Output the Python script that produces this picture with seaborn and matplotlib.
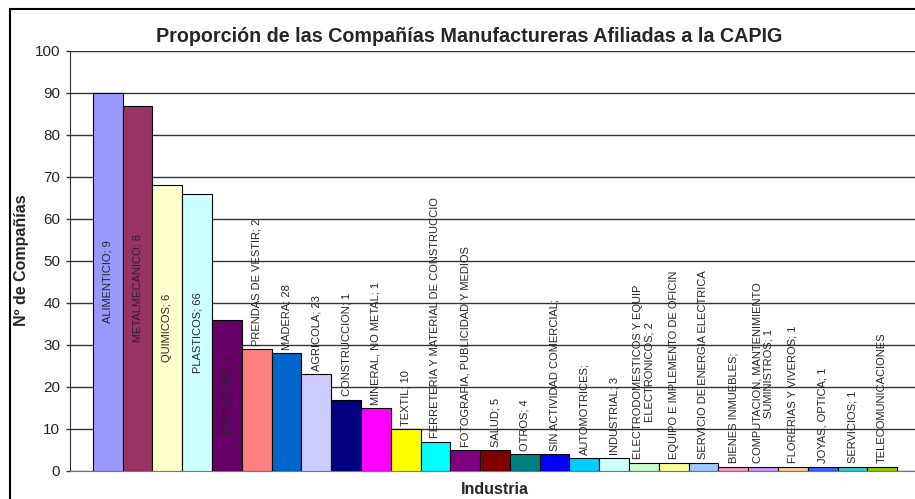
import pandas as pd
import matplotlib
matplotlib.use("Agg")
import matplotlib.pyplot as plt
import seaborn as sns
from matplotlib.patches import Rectangle

# Datos
industrias = [
    "ALIMENTICIO", "METALMECANICO", "QUIMICOS", "PLASTICOS", "IMPRENTAS",
    "PRENDAS DE VESTIR", "MADERA", "AGRICOLA", "CONSTRUCCION", "MINERAL, NO METAL",
    "TEXTIL", "FERRETERIA Y MATERIAL DE CONSTRUCCION", "FOTOGRAFIA, PUBLICIDAD Y MEDIOS",
    "SALUD", "OTROS", "SIN ACTIVIDAD COMERCIAL", "AUTOMOTRICES", "INDUSTRIAL",
    "ELECTRODOMESTICOS Y EQUIPOS ELECTRONICOS", "EQUIPO E IMPLEMENTO DE OFICINA",
    "SERVICIO DE ENERGIA ELECTRICA", "BIENES INMUEBLES",
    "COMPUTACION, MANTENIMIENTO Y SUMINISTROS", "FLORERIAS Y VIVEROS", "JOYAS, OPTICA",
    "SERVICIOS", "TELECOMUNICACIONES",
]
companias = [90, 87, 68, 66, 36, 29, 28, 23, 17, 15, 10, 7, 5, 5, 4, 4, 3, 3,
             2, 2, 2, 1, 1, 1, 1, 1, 1]

# Etiquetas tal como se ven (recortadas por Excel)
etiquetas = [
    "ALIMENTICIO; 9", "METALMECANICO; 8", "QUIMICOS; 6", "PLASTICOS; 66", "IMPRENTAS; 3",
    "PRENDAS DE VESTIR; 2", "MADERA; 28", "AGRICOLA; 23", "CONSTRUCCION; 1",
    "MINERAL, NO METAL; 1", "TEXTIL; 10", "FERRETERIA Y MATERIAL DE CONSTRUCCIO",
    "FOTOGRAFIA, PUBLICIDAD Y MEDIOS", "SALUD; 5", "OTROS; 4", "SIN ACTIVIDAD COMERCIAL;",
    "AUTOMOTRICES;", "INDUSTRIAL; 3", "ELECTRODOMESTICOS Y EQUIP\nELECTRONICOS; 2",
    "EQUIPO E IMPLEMENTO DE OFICIN", "SERVICIO DE ENERGIA ELECTRICA", "BIENES INMUEBLES;",
    "COMPUTACION, MANTENIMIENTO\nSUMINISTROS; 1", "FLORERIAS Y VIVEROS; 1",
    "JOYAS, OPTICA; 1", "SERVICIOS; 1", "TELECOMUNICACIONES",
]

colores = [
    "#9999FF", "#993366", "#FFFFCC", "#CCFFFF", "#660066", "#FF8080", "#0066CC",
    "#CCCCFF", "#000080", "#FF00FF", "#FFFF00", "#00FFFF", "#800080", "#800000",
    "#008080", "#0000FF", "#00CCFF", "#CCFFFF", "#CCFFCC", "#FFFF99", "#99CCFF",
    "#FF99CC", "#CC99FF", "#FFCC99", "#3366FF", "#33CCCC", "#99CC00",
]

df = pd.DataFrame({"Industria": industrias, "Companias": companias})

sns.set_style("white")
plt.rcParams["font.family"] = ["Liberation Sans", "DejaVu Sans"]

fig = plt.figure(figsize=(9.15, 4.99), dpi=100)
ax = fig.add_axes([70 / 915, 28 / 499, 850 / 915, 420 / 499])

sns.barplot(data=df, x="Industria", y="Companias", hue="Industria",
            palette=colores, saturation=1, width=1, edgecolor="black",
            linewidth=0.8, legend=False, ax=ax, zorder=3)

ax.set_xlim(-1.27, 27.27)
ax.set_ylim(0, 100)
ax.set_yticks(range(0, 101, 10))
ax.yaxis.grid(True, color="#333333", linewidth=1, zorder=0)
ax.set_xticks([])
ax.tick_params(axis="y", left=True, length=3, width=1, color="#333333",
               labelsize=11, pad=4)
for lado in ["top", "right"]:
    ax.spines[lado].set_visible(False)
ax.spines["left"].set_color("#333333")
ax.spines["bottom"].set_color("#777777")
ax.set_xlabel("")
ax.set_ylabel("")

# Etiquetas de datos
for i, (v, txt) in enumerate(zip(companias, etiquetas)):
    if v > 30:
        ax.text(i, v / 2, txt, rotation=90, ha="center", va="center",
                fontsize=8, zorder=4)
    else:
        ax.annotate(txt, (i, v), xytext=(0, 2.5), textcoords="offset points",
                    rotation=90, ha="center", va="bottom", fontsize=8,
                    multialignment="center", zorder=4)

fig.text(469 / 915, 1 - 37 / 499,
         "Proporción de las Compañías Manufactureras Afiliadas a la CAPIG",
         ha="center", va="center", fontsize=14.2, fontweight="bold")
fig.text(22 / 915, 1 - 260 / 499, "Nº de Compañías", rotation=90,
         ha="center", va="center", fontsize=11.5, fontweight="bold")
fig.text(495 / 915, 1 - 489 / 499, "Industria", ha="center", va="center",
         fontsize=11.5, fontweight="bold")

# Marco exterior
fig.patches.append(Rectangle((10 / 915, -0.1), 1.0, 1 - 9.5 / 499 + 0.1,
                             transform=fig.transFigure, fill=False,
                             edgecolor="black", linewidth=1.5))

fig.savefig("out.png", dpi=100)
